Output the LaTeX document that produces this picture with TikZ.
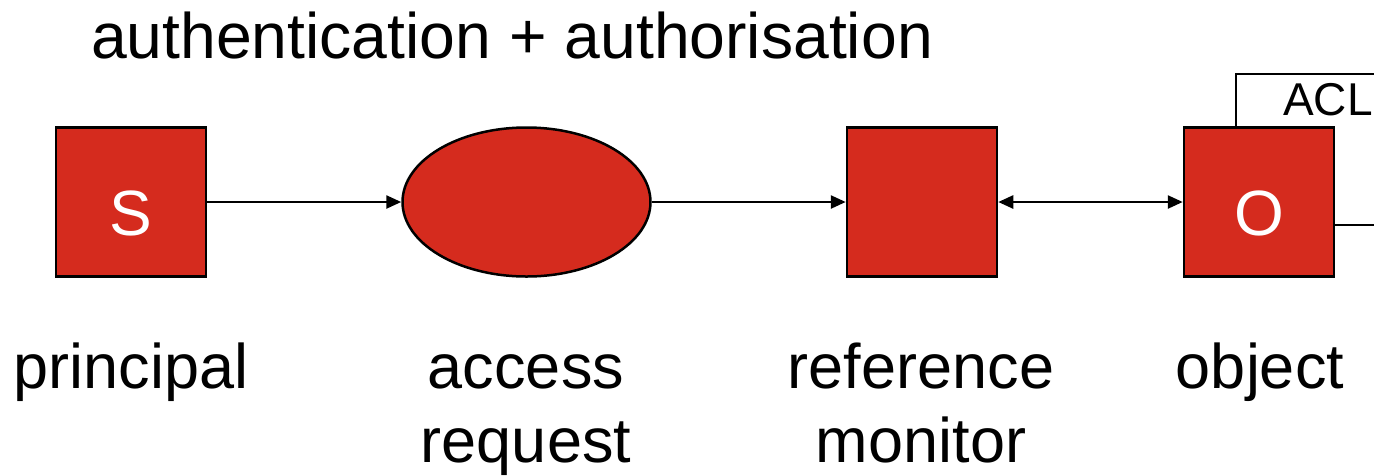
\documentclass[tikz,border=0pt]{standalone}
\usepackage{fontspec}
\setmainfont{Liberation Sans}
\usetikzlibrary{arrows.meta,shapes.geometric}
\definecolor{boxred}{RGB}{213,43,30}
\tikzset{
  redbox/.style={draw=black, line width=2.5pt, fill=boxred, minimum width=150pt, minimum height=149pt, inner sep=0pt},
  redell/.style={ellipse, draw=black, line width=2.5pt, fill=boxred, minimum width=248pt, minimum height=149pt, inner sep=0pt},
  inlbl/.style={anchor=base, text=white, font=\fontsize{64}{74}\selectfont, inner sep=0pt},
  lbl/.style={anchor=base, font=\fontsize{63}{74}\selectfont, align=center},
  conn/.style={line width=2.5pt, -{Triangle[length=15pt,width=13pt]}},
  conn2/.style={line width=2.5pt, {Triangle[length=15pt,width=13pt]}-{Triangle[length=15pt,width=13pt]}},
  aclline/.style={line width=2.5pt}
}
\begin{document}
\begin{tikzpicture}[x=1pt,y=-1pt]
\useasboundingbox (0,0) rectangle (1374,475);
% ACL box (clipped at right edge)
\coordinate (aclA) at (1236,127);
\coordinate (aclB) at (1236,74);
\coordinate (aclC) at (1380,74);
\coordinate (aclD) at (1380,225);
\draw[aclline] (aclA) -- (aclB) -- (aclC);
\node[anchor=base west, font=\fontsize{46}{50}\selectfont, inner sep=0pt] (acl) at (1283,115) {ACL};

\node[redbox] (s) at (131,202) {};
\node[redell] (req) at (526.5,202) {};
\node[redbox] (rm) at (922,202) {};
\node[redbox] (o) at (1259,202) {};
\node[inlbl] (sl) at (131,235) {S};
\node[inlbl] (ol) at (1259,235) {O};
\draw[aclline] (o.east |- aclD) -- (aclD);

\draw[conn] (s) -- (req);
\draw[conn] (req) -- (rm);
\draw[conn2] (rm) -- (o);

\node[lbl, font=\fontsize{64.3}{74}\selectfont] (t) at (512,58) {authentication + authorisation};
\node[lbl] (l1) at (131,388) {principal};
\node[lbl] (l2) at (526,388) {access};
\node[lbl] (l2b) at (526,462) {request};
\node[lbl] (l3) at (921,388) {reference};
\node[lbl] (l3b) at (921,462) {monitor};
\node[lbl] (l4) at (1260,388) {object};
\end{tikzpicture}
\end{document}
